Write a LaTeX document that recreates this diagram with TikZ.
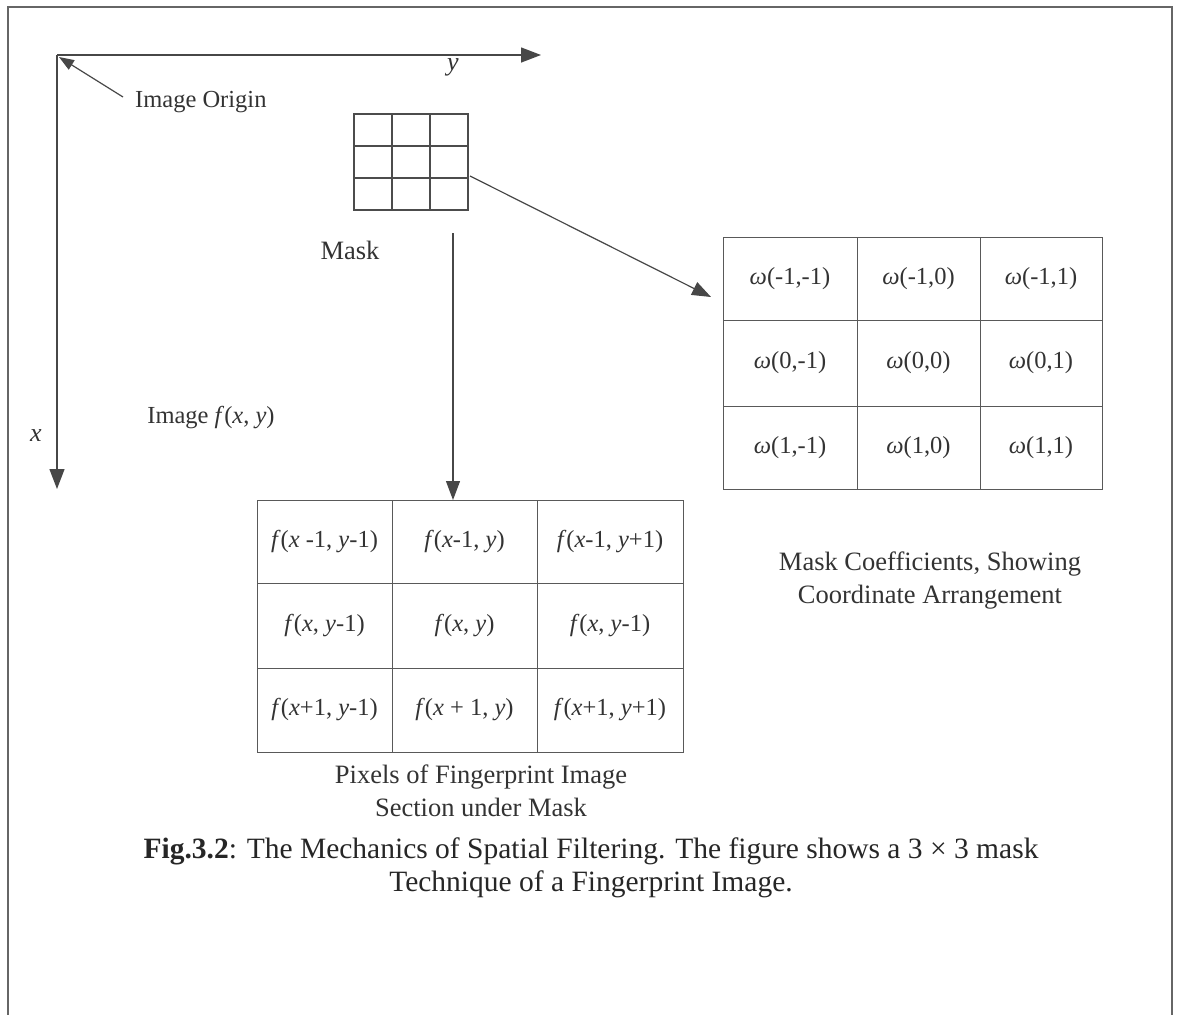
\documentclass[tikz,border=0pt]{standalone}
\usepackage{fontspec}
\setmainfont{Liberation Serif}
\usetikzlibrary{arrows.meta}
\begin{document}
\begin{tikzpicture}[x=1pt,y=-1pt,
  ln/.style={draw=black!72, line width=1.4pt},
  arr/.style={ln, -{Triangle[length=20pt,width=15pt]}},
  cellc/.style={draw=black!65, line width=1pt, inner sep=0pt, outer sep=0pt,
    font=\fontsize{24.5}{28}\selectfont, text=black!80},
  mcell/.style={draw=black!70, line width=1.1pt, inner sep=0pt, outer sep=0pt,
    minimum width=38pt, minimum height=32pt},
  lbl/.style={font=\fontsize{26.5}{33}\selectfont, text=black!80, align=center, inner sep=0pt},
  slbl/.style={font=\fontsize{24.5}{30}\selectfont, text=black!80, align=center, inner sep=0pt},
  captionstyle/.style={font=\fontsize{29.5}{33.5}\selectfont, text=black!85, align=center, inner sep=0pt}
]
\useasboundingbox (0,0) rectangle (1179,1015);
% frame
\draw[draw=black!60, line width=1.2pt] (8,1030) -- (8,7) -- (1172,7) -- (1172,1030);

% axes
\coordinate (O) at (57,55);
\coordinate (Y) at (541,55);
\coordinate (X) at (57,489);
\draw[arr] (O) -- (Y);
\draw[arr] (O) -- (X);
\node[slbl, font=\fontsize{26}{28}\selectfont\itshape] (ylab) at (453,67) {y};
\node[slbl, font=\fontsize{26}{28}\selectfont\itshape] (xlab) at (36,436) {x};

% image origin
\node[slbl, anchor=west] (orig) at (135,102) {Image Origin};
\coordinate (origstart) at (123,97);
\coordinate (origtip) at (59,57);
\draw[ln, line width=1.2pt, -{Triangle[length=15pt,width=11pt]}] (origstart) -- (origtip);

% mask grid
\foreach \r [count=\i] in {130,162,194}{
  \foreach \c [count=\j] in {373,411,449}{
    \node[mcell] (m\i\j) at (\c,\r) {};
  }
}
\node[lbl] (masklbl) at (350,250) {Mask};

\node[slbl] (imglbl) at (211,418) {Image \textit{f}(\textit{x}, \textit{y})};

% coefficient table
\foreach \r/\h [count=\i] in {278.5/83,363/86,447.5/83}{
  \foreach \c/\w [count=\j] in {790/134,918.5/123,1041/122}{
    \node[cellc, minimum width=\w pt, minimum height=\h pt] (w\i\j) at (\c,\r) {};
  }
}
\node[cellc, draw=none] at (w11) {\textit{ω}(-1,-1)};
\node[cellc, draw=none] at (w12) {\textit{ω}(-1,0)};
\node[cellc, draw=none] at (w13) {\textit{ω}(-1,1)};
\node[cellc, draw=none] at (w21) {\textit{ω}(0,-1)};
\node[cellc, draw=none] at (w22) {\textit{ω}(0,0)};
\node[cellc, draw=none] at (w23) {\textit{ω}(0,1)};
\node[cellc, draw=none] at (w31) {\textit{ω}(1,-1)};
\node[cellc, draw=none] at (w32) {\textit{ω}(1,0)};
\node[cellc, draw=none] at (w33) {\textit{ω}(1,1)};

% pixel table
\foreach \r/\h [count=\i] in {541.5/83,625.5/85,710/84}{
  \foreach \c/\w [count=\j] in {324.5/135,464.5/145,610/146}{
    \node[cellc, minimum width=\w pt, minimum height=\h pt] (p\i\j) at (\c,\r) {};
  }
}
\node[cellc, draw=none] at (p11) {\textit{f}(\textit{x} -1, \textit{y}-1)};
\node[cellc, draw=none] at (p12) {\textit{f}(\textit{x}-1, \textit{y})};
\node[cellc, draw=none] at (p13) {\textit{f}(\textit{x}-1, \textit{y}+1)};
\node[cellc, draw=none] at (p21) {\textit{f}(\textit{x}, \textit{y}-1)};
\node[cellc, draw=none] at (p22) {\textit{f}(\textit{x}, \textit{y})};
\node[cellc, draw=none] at (p23) {\textit{f}(\textit{x}, \textit{y}-1)};
\node[cellc, draw=none] at (p31) {\textit{f}(\textit{x}+1, \textit{y}-1)};
\node[cellc, draw=none] at (p32) {\textit{f}(\textit{x} + 1, \textit{y})};
\node[cellc, draw=none] at (p33) {\textit{f}(\textit{x}+1, \textit{y}+1)};

% connectors
\coordinate (mstart) at (470,176);
\coordinate (wtip) at (711,297);
\draw[arr, line width=1.2pt, -{Triangle[length=19pt,width=14pt]}] (mstart) -- (wtip);
\coordinate (vstart) at (453,233);
\draw[arr, line width=1.2pt, -{Triangle[length=19pt,width=14pt]}] (vstart) -- (p12.north -| vstart);

% labels
\node[lbl] (coeflbl) at (930,581) {Mask Coefficients, Showing\\Coordinate Arrangement};
\node[lbl] (pixlbl) at (481,791) {Pixels of Fingerprint Image\\Section under Mask};

\node[captionstyle] (caption) at (591,868) {\textbf{Fig.3.2}: The Mechanics of Spatial Filtering. The figure shows a 3 × 3 mask\\Technique of a Fingerprint Image.};
\end{tikzpicture}
\end{document}
